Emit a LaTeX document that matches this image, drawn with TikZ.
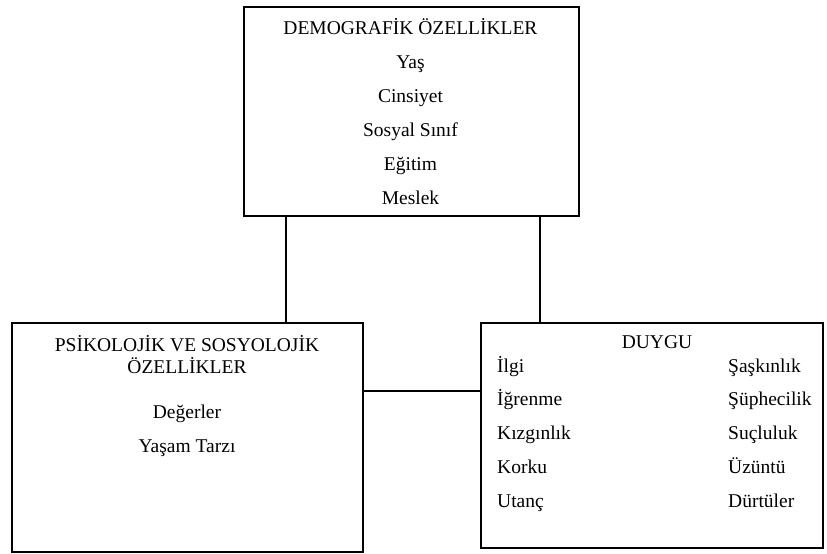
\documentclass[tikz,border=0pt]{standalone}
\usepackage{fontspec}
\setmainfont{Liberation Serif}
\begin{document}
\begin{tikzpicture}[x=1pt,y=1pt,
  box/.style={draw, line width=1.3pt, rectangle, inner sep=0pt},
  txt/.style={anchor=base, inner sep=0pt, font=\fontsize{19.5}{23}\selectfont},
  txtl/.style={txt, anchor=base west},
  link/.style={draw, line width=1.3pt}]
\useasboundingbox (0,0) rectangle (827,-554);
% boxes
\node[box, minimum width=335pt, minimum height=209pt] (top) at (411.5,-111.5) {};
\node[box, minimum width=351pt, minimum height=229pt] (left) at (187.5,-437.5) {};
\node[box, minimum width=342pt, minimum height=225pt] (right) at (652,-435.5) {};
% connectors
\coordinate (c1) at (286,0);
\coordinate (c2) at (540,0);
\coordinate (c3) at (0,-391);
\draw[link] (c1 |- top.south) -- (c1 |- left.north);
\draw[link] (c2 |- top.south) -- (c2 |- right.north);
\draw[link] (c3 -| left.east) -- (c3 -| right.west);
% top texts
\node[txt] (d0) at (410.5,-34) {DEMOGRAFİK ÖZELLİKLER};
\node[txt] (d1) at (410.5,-68) {Yaş};
\node[txt] (d2) at (410.5,-102) {Cinsiyet};
\node[txt] (d3) at (410.5,-136) {Sosyal Sınıf};
\node[txt] (d4) at (410.5,-170) {Eğitim};
\node[txt] (d5) at (410.5,-204) {Meslek};
% left texts
\node[txt] (p0) at (187,-351) {PSİKOLOJİK VE SOSYOLOJİK};
\node[txt] (p1) at (187,-373) {ÖZELLİKLER};
\node[txt] (p2) at (187,-418) {Değerler};
\node[txt] (p3) at (187,-452) {Yaşam Tarzı};
% right texts
\node[txt] (u0) at (657,-348) {DUYGU};
\node[txtl] (a1) at (497,-372) {İlgi};
\node[txtl] (a2) at (497,-405.5) {İğrenme};
\node[txtl] (a3) at (497,-439) {Kızgınlık};
\node[txtl] (a4) at (497,-473) {Korku};
\node[txtl] (a5) at (497,-507) {Utanç};
\node[txtl] (b1) at (728,-372) {Şaşkınlık};
\node[txtl] (b2) at (728,-405.5) {Şüphecilik};
\node[txtl] (b3) at (728,-439) {Suçluluk};
\node[txtl] (b4) at (728,-473) {Üzüntü};
\node[txtl] (b5) at (728,-507) {Dürtüler};
\end{tikzpicture}
\end{document}
